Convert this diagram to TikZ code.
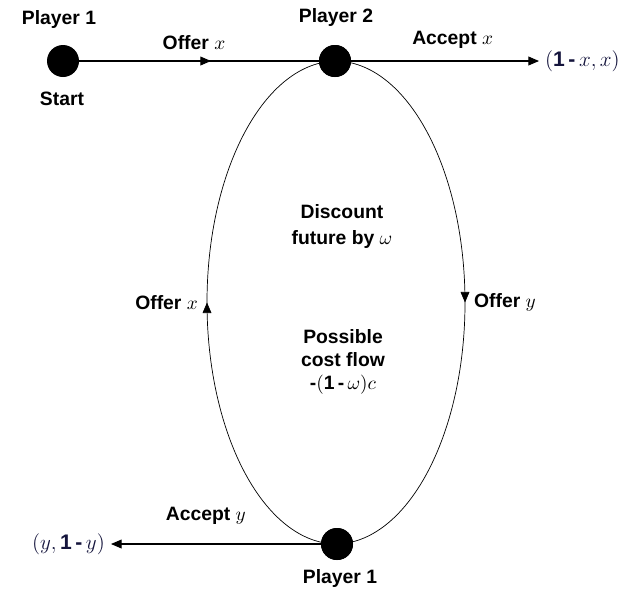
\documentclass[tikz,border=0pt]{standalone}
\usepackage{fontspec}
\setmainfont{Liberation Sans}
\usepackage{tikz}
\usetikzlibrary{arrows.meta,positioning,decorations.markings}
\definecolor{noeud}{RGB}{0,0,0}
\definecolor{paye}{RGB}{20,20,60}
\tikzset{
  joueur/.style={circle,fill=noeud,minimum size=0.64cm,inner sep=0pt},
  etiq/.style={font=\fontsize{11}{13}\selectfont\bfseries,inner sep=1pt},
  gain/.style={font=\large\bfseries,text=paye},
  fleche/.style={semithick,-{Triangle[length=6pt,width=5pt]}},
  milieu/.style={postaction={decorate},decoration={markings,
      mark=at position #1 with {\arrow{Triangle[length=6pt,width=5pt]}}}},
  milieu/.default=0.5
}

\begin{document}
\begin{tikzpicture}
      \useasboundingbox (0,0) rectangle (12.74,-11.88);
      % joueurs
      \node[joueur] (debut) at (1.26,-1.22) {};
      \node[joueur] (deux) at (6.70,-1.22) {};
      \node[joueur] (unbas) at (6.74,-10.88) {};
      \node[etiq] at (1.18,-0.38) {Player 1};
      \node[etiq] at (1.24,-1.98) {Start};
      \node[etiq] at (6.72,-0.34) {Player 2};
      \node[etiq] at (6.80,-11.56) {Player 1};
      % gains
      \node[gain,anchor=west] (payx) at (10.78,-1.22) {$(\textbf{1\,-\,}x,x)$};
      \node[gain,anchor=east] (payy) at (2.22,-10.88) {$(y,\textbf{1\,-\,}y)$};
      % coups
      \draw[semithick,milieu=0.55] (debut) -- (deux) node[etiq,midway,above=5pt,xshift=-0.1cm] {Offer $x$};
      \draw[fleche] (deux) -- (payx.west) node[etiq,midway,above=6pt,xshift=0.15cm] {Accept $x$};
      \draw[fleche] (unbas) -- (payy.east) node[etiq,midway,above=10pt,xshift=-0.2cm] {Accept $y$};
      % boucle de marchandage
      \draw[thin,milieu] (deux.center) arc[start angle=90,end angle=-90,x radius=2.6,y radius=4.83]
        node[etiq,pos=0.5,right=4pt] {Offer $y$};
      \draw[thin,milieu] (unbas.center) arc[start angle=270,end angle=90,x radius=2.6,y radius=4.83]
        node[etiq,pos=0.5,left=4pt] {Offer $x$};
      \node[joueur] at (deux) {};
      \node[joueur] at (unbas) {};
      \node[etiq,align=center] (remise) at (6.84,-4.53) {Discount\\[2pt] future by $\omega$};
      \node[etiq,align=center] (cout) at (6.86,-7.24) {Possible\\ cost flow\\ -$(\textbf{1\,-\,}\omega)c$};
    \end{tikzpicture}
\end{document}
